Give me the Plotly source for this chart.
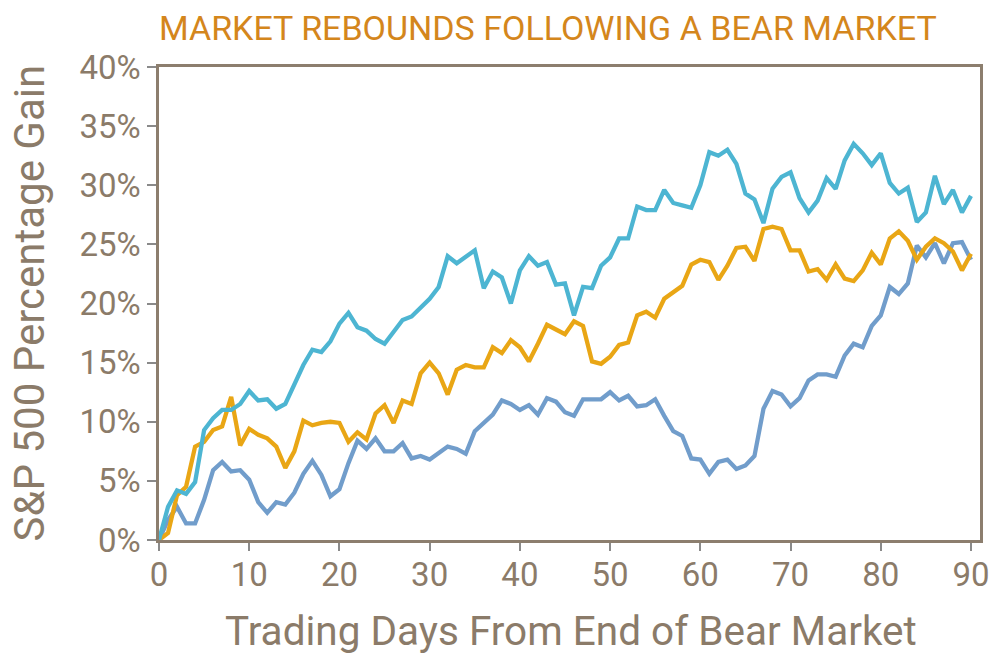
import plotly.graph_objects as go

days = list(range(91))

cyan = [0, 2.8, 4.2, 3.9, 4.9, 9.3, 10.3, 11.0, 11.0, 11.5,
        12.6, 11.8, 11.9, 11.1, 11.5, 13.2, 14.8, 16.1, 15.9, 16.8,
        18.3, 19.2, 18.0, 17.7, 17.0, 16.6, 17.6, 18.6, 18.9, 19.6,
        20.4, 21.4, 24.0, 23.4, 23.9, 24.5, 21.3, 22.7, 22.2, 20.0,
        22.8, 24.0, 23.2, 23.5, 21.6, 21.7, 19.0, 21.4, 21.3, 23.2,
        23.9, 25.5, 25.5, 28.2, 27.9, 27.9, 29.6, 28.5, 28.3, 28.1,
        30.0, 32.8, 32.5, 33.0, 31.8, 29.3, 28.8, 26.8, 29.7, 30.7,
        31.1, 28.9, 27.7, 28.7, 30.6, 29.7, 32.1, 33.5, 32.7, 31.7,
        32.7, 30.2, 29.3, 29.8, 26.9, 27.7, 30.8, 28.4, 29.6, 27.7,
        29.1]

orange = [0, 0.6, 3.8, 4.5, 7.9, 8.3, 9.3, 9.6, 12.1, 8.0,
          9.4, 8.9, 8.6, 7.9, 6.1, 7.5, 10.1, 9.7, 9.9, 10.0,
          9.9, 8.3, 9.1, 8.5, 10.7, 11.4, 9.9, 11.8, 11.5, 14.1,
          15.0, 14.1, 12.3, 14.4, 14.8, 14.6, 14.6, 16.3, 15.8, 16.9,
          16.3, 15.1, 16.6, 18.2, 17.8, 17.4, 18.5, 18.1, 15.1, 14.9,
          15.5, 16.5, 16.7, 19.0, 19.3, 18.8, 20.4, 20.9, 21.5, 23.3,
          23.7, 23.5, 22.0, 23.2, 24.7, 24.8, 23.6, 26.3, 26.5, 26.3,
          24.5, 24.5, 22.7, 22.9, 22.0, 23.3, 22.1, 21.9, 22.8, 24.3,
          23.3, 25.5, 26.1, 25.3, 23.7, 24.8, 25.5, 25.1, 24.4, 22.8,
          24.2]

blue = [0, 1.7, 2.8, 1.4, 1.4, 3.4, 5.9, 6.6, 5.8, 5.9,
        5.1, 3.2, 2.3, 3.2, 3.0, 4.0, 5.6, 6.7, 5.5, 3.7,
        4.3, 6.5, 8.4, 7.7, 8.6, 7.5, 7.5, 8.2, 6.9, 7.1,
        6.8, 7.3, 7.9, 7.7, 7.3, 9.2, 9.9, 10.6, 11.8, 11.5,
        11.0, 11.4, 10.6, 12.0, 11.7, 10.8, 10.5, 11.9, 11.9, 11.9,
        12.5, 11.8, 12.2, 11.3, 11.4, 11.9, 10.5, 9.2, 8.8, 6.9,
        6.8, 5.6, 6.6, 6.8, 6.0, 6.3, 7.1, 11.1, 12.6, 12.3,
        11.3, 12.0, 13.5, 14.0, 14.0, 13.8, 15.6, 16.6, 16.3, 18.1,
        19.0, 21.4, 20.8, 21.7, 24.9, 23.9, 25.1, 23.4, 25.1, 25.2,
        23.7]

x_ticks = [0, 10, 20, 30, 40, 50, 60, 70, 80, 90]
y_ticks = [0, 5, 10, 15, 20, 25, 30, 35, 40]
y_tick_labels = [f"{v}%" for v in y_ticks]

title_text = "MARKET REBOUNDS FOLLOWING A BEAR MARKET"
x_title = "Trading Days From End of Bear Market"
y_title = "S&P 500 Percentage Gain"

FONT = "Roboto, Liberation Sans, sans-serif"
TXT = "#8b7b69"
AX = "#8c7e6e"

fig = go.Figure()
for vals, col in [(blue, "#719dcb"), (orange, "#e9a615"), (cyan, "#4db5d2")]:
    fig.add_trace(go.Scatter(x=days, y=vals, mode="lines",
                             line=dict(color=col, width=4.3), hoverinfo="skip",
                             showlegend=False))

W, H = 997, 656
L, R, T, B = 158.5, 8, 66.5, 116
pw = W - L - R
ph = H - T - B

fig.update_layout(
    width=W, height=H, autosize=False,
    margin=dict(l=L, r=R, t=T, b=B),
    paper_bgcolor="white", plot_bgcolor="white",
    font=dict(family=FONT, color=TXT),
    title=dict(text=title_text, font=dict(family=FONT, size=34, color="#d4861c"),
               xref="container", yref="container", x=159 / W, xanchor="left",
               y=1 - 28 / H, yanchor="middle"),
    xaxis=dict(range=[0, 91], tickvals=x_ticks, ticks="outside", ticklen=8,
               tickwidth=2, tickcolor="#8a8a8a", showline=True, linecolor=AX,
               linewidth=2.5, mirror=True, showgrid=False, zeroline=False,
               ticklabelstandoff=-4,
               tickfont=dict(size=33, color=TXT)),
    yaxis=dict(range=[0, 40], tickvals=y_ticks, ticktext=y_tick_labels,
               ticks="outside", ticklen=9, tickwidth=2, tickcolor="#8a8a8a",
               showline=True, linecolor=AX, linewidth=2.5, mirror=True,
               showgrid=False, zeroline=False,
               tickfont=dict(size=33, color=TXT)),
    annotations=[
        dict(text=x_title, xref="paper", yref="paper",
             x=(575 - L) / pw, y=-(631 - (T + ph)) / ph,
             xanchor="center", yanchor="middle", showarrow=False,
             font=dict(family=FONT, size=40.5, color=TXT)),
        dict(text=y_title, xref="paper", yref="paper",
             x=(27 - L) / pw, y=0.5, textangle=-90,
             xanchor="center", yanchor="middle", showarrow=False,
             font=dict(family=FONT, size=42, color=TXT)),
    ],
)

fig.write_html("out.html",
               config={"responsive": False, "displayModeBar": False},
               default_width="997px", default_height="656px",
               post_script="document.body.style.margin='0';document.body.style.overflow='hidden';")
